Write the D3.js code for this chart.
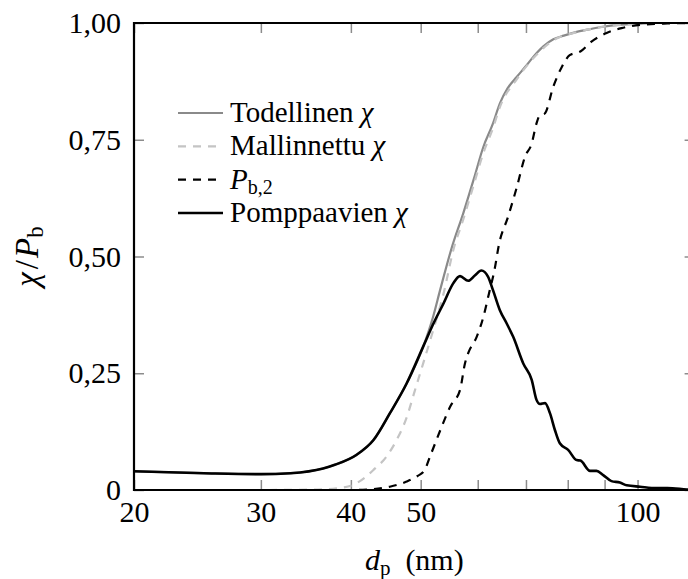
<!DOCTYPE html>
<html>
<head>
<meta charset="utf-8">
<script src="https://cdn.jsdelivr.net/npm/d3@7"></script>
<style>
  html, body { margin: 0; padding: 0; background: #fff; }
  svg { display: block; }
</style>
</head>
<body>
<svg id="chart" width="688" height="579"></svg>
<script>
// Particle diameter (nm) and fractions for each curve
const todellinenD = [20, 25, 30, 33, 36.6, 38, 40.7, 43.0, 45.3, 47.8, 50.4, 52.0, 53.2, 55.2, 57.3, 59.2, 61.1, 63.0, 64.4, 66, 68.0, 70, 71.7, 74, 76.4, 79, 82.3, 86, 89.6, 94, 99.3, 105, 120];
const todellinenChi = [0.040, 0.036, 0.034, 0.036, 0.046, 0.054, 0.075, 0.107, 0.164, 0.228, 0.307, 0.370, 0.428, 0.518, 0.593, 0.664, 0.735, 0.785, 0.828, 0.860, 0.885, 0.908, 0.928, 0.950, 0.965, 0.973, 0.981, 0.987, 0.992, 0.996, 0.998, 1.0, 1.0];

const mallinnettuD = [20, 30, 36, 38.5, 40.3, 41.7, 43.0, 44.8, 46.3, 47.8, 49.1, 50.4, 52.1, 53.8, 55.5, 57.3, 59.2, 61.1, 63.0, 64.4, 68.0, 71.7, 76.4, 82.3, 89.6, 99.3, 105, 120];
const mallinnettuChi = [0, 0, 0.001, 0.004, 0.011, 0.025, 0.043, 0.071, 0.107, 0.155, 0.214, 0.271, 0.345, 0.421, 0.514, 0.580, 0.652, 0.722, 0.775, 0.820, 0.880, 0.925, 0.963, 0.980, 0.992, 0.998, 1.0, 1.0];

const pb2D = [20, 40, 43, 45.3, 47.8, 49.5, 50.6, 51.7, 53.3, 55.0, 56.7, 57.6, 58.2, 59.8, 61.1, 62.2, 63.3, 64.2, 66.1, 68.0, 69.8, 71.3, 72.4, 73.2, 74.3, 76.4, 78.5, 80.5, 83.3, 86.3, 90.4, 95.0, 101, 110, 120];
const pb2Val = [0, 0, 0.002, 0.007, 0.018, 0.030, 0.042, 0.078, 0.130, 0.180, 0.214, 0.271, 0.293, 0.328, 0.371, 0.421, 0.471, 0.525, 0.585, 0.649, 0.714, 0.742, 0.785, 0.803, 0.806, 0.864, 0.906, 0.931, 0.939, 0.960, 0.978, 0.989, 0.996, 0.999, 1.0];

const pomppaavienD = [20, 25, 30, 33, 36.6, 38, 40.7, 43.0, 45.3, 47.8, 50.4, 52.1, 53.8, 55.5, 56.7, 58.2, 59.5, 60.7, 62.0, 63.0, 64.4, 65.8, 67.2, 69.4, 71.3, 72.4, 73.2, 74.4, 75.6, 76.8, 78.0, 80.1, 82.3, 83.3, 85.9, 87.7, 89.6, 92.0, 94.5, 96.6, 100.8, 106.3, 110, 117, 120];
const pomppaavienChi = [0.040, 0.036, 0.034, 0.036, 0.046, 0.054, 0.075, 0.107, 0.164, 0.228, 0.307, 0.357, 0.400, 0.443, 0.458, 0.448, 0.460, 0.470, 0.457, 0.428, 0.385, 0.357, 0.328, 0.271, 0.236, 0.193, 0.184, 0.186, 0.164, 0.128, 0.100, 0.086, 0.064, 0.063, 0.041, 0.041, 0.032, 0.019, 0.016, 0.010, 0.007, 0.004, 0.004, 0.001, 0.0];

// Axis ticks
const xTicks = [20, 30, 40, 50, 60, 70, 80, 90, 100];
const xTickLabels = [20, 30, 40, 50, 100];
const yTicks = [0, 0.25, 0.5, 0.75, 1.0];

// Legend entries, drawing order
const seriesNames = ["Todellinen", "Mallinnettu", "Pb2", "Pomppaavien"];

const FONT = "Liberation Serif";

const svg = d3.select("#chart");
const W = 688, H = 579;
const margin = { left: 134, top: 23, bottom: 89 };
const plotRight = 694.6;
const plotBottom = H - margin.bottom;

const x = d3.scaleLog().domain([20, 120]).range([margin.left, plotRight]);
const y = d3.scaleLinear().domain([0, 1]).range([plotBottom, margin.top]);

const styles = {
  Todellinen:  { color: "#8a8a8a", width: 2.2, dash: null },
  Mallinnettu: { color: "#c4c4c4", width: 2.2, dash: "8,7" },
  Pb2:         { color: "#000",    width: 2.2, dash: "8,7" },
  Pomppaavien: { color: "#000",    width: 2.6, dash: null }
};

const seriesData = {
  Todellinen: d3.zip(todellinenD, todellinenChi),
  Mallinnettu: d3.zip(mallinnettuD, mallinnettuChi),
  Pb2: d3.zip(pb2D, pb2Val),
  Pomppaavien: d3.zip(pomppaavienD, pomppaavienChi)
};

svg.append("defs").append("clipPath").attr("id", "plotClip")
  .append("rect")
  .attr("x", margin.left).attr("y", margin.top - 2)
  .attr("width", plotRight - margin.left).attr("height", plotBottom - margin.top + 2);

const fmt = v => v === 0 ? "0" : d3.format(".2f")(v).replace(".", ",");
const tickGray = "#8c8c8c";

// Tick marks inside the frame on all four sides
const bottomAxis = d3.axisBottom(x).tickValues(xTicks).tickSizeInner(-10).tickSizeOuter(0)
  .tickPadding(11).tickFormat(d => xTickLabels.includes(d) ? d : "");
const topAxis = d3.axisTop(x).tickValues(xTicks).tickSizeInner(-10).tickSizeOuter(0).tickFormat("");
const leftAxis = d3.axisLeft(y).tickValues(yTicks).tickSizeInner(-10).tickSizeOuter(0)
  .tickPadding(13).tickFormat(fmt);
const rightAxis = d3.axisRight(y).tickValues(yTicks).tickSizeInner(-10).tickSizeOuter(0).tickFormat("");

function styleAxis(g) {
  g.attr("font-family", FONT).attr("font-size", 30);
  g.select(".domain").remove();
  g.selectAll(".tick line").attr("stroke", tickGray).attr("stroke-width", 1.5);
  g.selectAll(".tick text").attr("font-family", FONT).attr("font-size", 30).attr("fill", "#000");
}

svg.append("g").attr("transform", `translate(0,${plotBottom})`).call(bottomAxis).call(styleAxis);
svg.append("g").attr("transform", `translate(0,${margin.top})`).call(topAxis).call(styleAxis);
svg.append("g").attr("transform", `translate(${margin.left},0)`).call(leftAxis).call(styleAxis);
svg.append("g").attr("transform", `translate(${plotRight},0)`).call(rightAxis).call(styleAxis);

// Curves
const line = d3.line()
  .x(d => x(d[0]))
  .y(d => y(d[1]))
  .curve(d3.curveMonotoneX);

const curves = svg.append("g").attr("clip-path", "url(#plotClip)");
seriesNames.forEach(name => {
  const s = styles[name];
  curves.append("path")
    .datum(seriesData[name])
    .attr("d", line)
    .attr("fill", "none")
    .attr("stroke", s.color)
    .attr("stroke-width", s.width)
    .attr("stroke-dasharray", s.dash)
    .attr("stroke-linejoin", "round");
});

// Frame
svg.append("path")
  .attr("d", `M${plotRight},${margin.top}H${margin.left}V${plotBottom}H${plotRight}`)
  .attr("fill", "none").attr("stroke", "#000").attr("stroke-width", 2.2);

// Legend
const legend = svg.append("g").attr("font-family", FONT).attr("font-size", 29);
const legendX0 = 178, legendX1 = 223, legendTextX = 230;
const legendY = d3.scalePoint().domain(seriesNames).range([113, 213]);

function legendLabel(t, name) {
  if (name === "Todellinen" || name === "Mallinnettu" || name === "Pomppaavien") {
    t.append("tspan").text(name + " ");
    t.append("tspan").attr("font-style", "italic").text("χ");
  } else {
    t.append("tspan").attr("font-style", "italic").text("P");
    t.append("tspan").attr("font-size", 20).attr("dy", 5).text("b,2");
  }
}

seriesNames.forEach(name => {
  const s = styles[name];
  const yy = legendY(name);
  legend.append("line")
    .attr("x1", legendX0).attr("x2", legendX1)
    .attr("y1", yy).attr("y2", yy)
    .attr("stroke", s.color).attr("stroke-width", s.width)
    .attr("stroke-dasharray", s.dash);
  const t = legend.append("text")
    .attr("x", legendTextX).attr("y", yy + 9)
    .attr("font-family", FONT).attr("font-size", 29).attr("fill", "#000");
  legendLabel(t, name);
});

// Axis titles
const xTitle = svg.append("text")
  .attr("x", (margin.left + plotRight) / 2).attr("y", 570)
  .attr("text-anchor", "middle")
  .attr("font-family", FONT).attr("font-size", 30).attr("fill", "#000");
xTitle.append("tspan").attr("font-style", "italic").text("d");
xTitle.append("tspan").attr("font-size", 21).attr("dy", 5).text("p");
xTitle.append("tspan").attr("dy", -5).text("\u2002(nm)");

const yTitle = svg.append("text")
  .attr("transform", `translate(38,${(margin.top + plotBottom) / 2}) rotate(-90)`)
  .attr("text-anchor", "middle")
  .attr("font-family", FONT).attr("font-size", 33).attr("fill", "#000");
yTitle.append("tspan").attr("font-style", "italic").text("χ");
yTitle.append("tspan").attr("dx", 3).text("/");
yTitle.append("tspan").attr("dx", 2).attr("font-style", "italic").text("P");
yTitle.append("tspan").attr("font-size", 23).attr("dy", 5).text("b");
</script>
</body>
</html>
